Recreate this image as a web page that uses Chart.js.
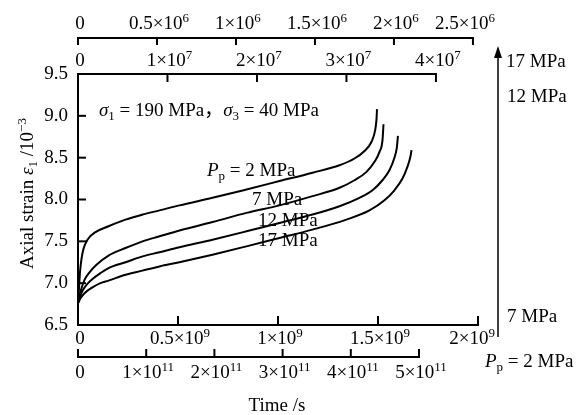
<!DOCTYPE html>
<html><head><meta charset="utf-8">
<script src="https://cdn.jsdelivr.net/npm/chart.js@4.4.1/dist/chart.umd.min.js"></script>
<style>html,body{margin:0;padding:0;background:#fff;}canvas{display:block;}</style>
</head><body>
<canvas id="chart" width="587" height="415"></canvas>
<script>
const FONT = '"Liberation Serif","Times New Roman","Noto Sans CJK SC",serif';
const FS = 19;

// ---- creep curves (time in s, axial strain in 10^-3) ----
// Pp = 2 MPa (lower bottom axis, 10^11 s)
const timeP2 = [0,0.0147e11,0.0293e11,0.0513e11,0.0806e11,0.139e11,0.257e11,0.447e11,0.696e11,0.946e11,1.195e11,1.488e11,1.972e11,2.471e11,2.955e11,3.439e11,3.834e11,4.054e11,4.201e11,4.304e11,4.355e11,4.377e11,4.384e11];
const strainP2 = [6.76,6.94,7.13,7.29,7.41,7.52,7.61,7.68,7.76,7.82,7.87,7.93,8.02,8.12,8.22,8.32,8.41,8.49,8.58,8.69,8.82,8.96,9.08];
// Pp = 7 MPa (main bottom axis, 10^9 s)
const timeP7 = [0,0.0075e9,0.0175e9,0.0325e9,0.0575e9,0.0925e9,0.1525e9,0.2375e9,0.3225e9,0.4075e9,0.5075e9,0.6725e9,0.8425e9,1.0075e9,1.1725e9,1.3075e9,1.3825e9,1.4425e9,1.4825e9,1.5075e9,1.5225e9,1.5275e9];
const strainP7 = [6.76,6.85,6.94,7.04,7.13,7.22,7.33,7.42,7.50,7.56,7.63,7.73,7.84,7.93,8.04,8.14,8.23,8.33,8.45,8.57,8.71,8.90];
// Pp = 12 MPa (lower top axis, 10^7 s)
const timeP12 = [0,0.0223e7,0.0503e7,0.095e7,0.162e7,0.251e7,0.341e7,0.531e7,0.721e7,0.911e7,1.134e7,1.503e7,1.883e7,2.251e7,2.620e7,2.922e7,3.145e7,3.291e7,3.402e7,3.480e7,3.536e7,3.564e7,3.575e7];
const strainP12 = [6.76,6.84,6.91,6.98,7.05,7.12,7.18,7.25,7.32,7.37,7.43,7.52,7.62,7.72,7.82,7.92,8.02,8.11,8.23,8.35,8.50,8.63,8.76];
// Pp = 17 MPa (upper top axis, 10^6 s)
const timeP17 = [0,0.0158e6,0.0411e6,0.0918e6,0.142e6,0.193e6,0.301e6,0.408e6,0.516e6,0.642e6,0.851e6,1.066e6,1.275e6,1.484e6,1.699e6,1.845e6,1.940e6,2.003e6,2.054e6,2.085e6,2.104e6,2.111e6];
const strainP17 = [6.76,6.82,6.88,6.95,7.00,7.03,7.10,7.15,7.20,7.25,7.34,7.44,7.54,7.64,7.76,7.87,7.99,8.11,8.25,8.39,8.51,8.59];

// ---- axis ticks and labels ('^' marks the exponent) ----
const ticksP17 = [0,0.5e6,1e6,1.5e6,2e6,2.5e6];
const labelsP17 = ['0','0.5×10^6','1×10^6','1.5×10^6','2×10^6','2.5×10^6'];
const ticksP12 = [0,1e7,2e7,3e7,4e7];
const labelsP12 = ['0','1×10^7','2×10^7','3×10^7','4×10^7'];
const ticksP7 = [0,0.5e9,1e9,1.5e9,2e9];
const labelsP7 = ['0','0.5×10^9','1×10^9','1.5×10^9','2×10^9'];
const ticksP2 = [0,1e11,2e11,3e11,4e11,5e11];
const labelsP2 = ['0','1×10^11','2×10^11','3×10^11','4×10^11','5×10^11'];
const yMin = 6.5, yMax = 9.5, yStep = 0.5;

const maxP7 = 2e9, maxP2 = 5.865e11, maxP12 = 4.47e7, maxP17 = 2.532e6;

function pts(xs, ys){ return xs.map((x,i)=>({x:x,y:ys[i]})); }
function parseLabel(s){ const i=s.indexOf('^'); return i<0?[{t:s}]:[{t:s.slice(0,i)},{t:s.slice(i+1),sup:1}]; }
function segFont(s,size){ const sz=(s.sup||s.sub)?Math.round(size*0.68):size; return (s.i?'italic ':'')+sz+'px '+FONT; }
function measure(ctx,segs,size){ let w=0; for(const s of segs){ ctx.font=segFont(s,size); w+=ctx.measureText(s.t).width; } return w; }
function drawRich(ctx,segs,x,y,size,align,maxRight){
  const w=measure(ctx,segs,size);
  let cx = align==='center'? x-w/2 : (align==='right'? x-w : x);
  if(maxRight!==undefined && cx+w>maxRight) cx=maxRight-w;
  ctx.textAlign='left'; ctx.textBaseline='alphabetic'; ctx.fillStyle='#000';
  const base = y + size*0.33;
  for(const s of segs){
    ctx.font=segFont(s,size);
    let dy=0; if(s.sup) dy=-size*0.36; if(s.sub) dy=size*0.18;
    ctx.fillText(s.t,cx,base+dy);
    cx+=ctx.measureText(s.t).width;
  }
}

// annotations, positioned in data units (main time axis, strain axis)
const notes = [
  {x:0.105e9, y:9.07, segs:[{t:'σ',i:1},{t:'1',sub:1},{t:' = 190 MPa，'},{t:'σ',i:1},{t:'3',sub:1},{t:' = 40 MPa'}]},
  {x:0.645e9, y:8.35, segs:[{t:'P',i:1},{t:'p',sub:1},{t:' = 2 MPa'}]},
  {x:0.87e9, y:8.006, segs:[{t:'7 MPa'}]},
  {x:0.90e9, y:7.755, segs:[{t:'12 MPa'}]},
  {x:0.90e9, y:7.516, segs:[{t:'17 MPa'}]},
  {x:2.14e9, y:9.655, segs:[{t:'17 MPa'}]},
  {x:2.145e9, y:9.243, segs:[{t:'12 MPa'}]},
  {x:2.145e9, y:6.614, segs:[{t:'7 MPa'}]},
  {x:2.035e9, y:6.07, segs:[{t:'P',i:1},{t:'p',sub:1},{t:' = 2 MPa'}]}
];
const arrow = {x:2.1e9, y0:6.357, y1:9.835};

const axesPlugin = {
  id:'customAxes',
  afterDraw(chart){
    const ctx=chart.ctx, ca=chart.chartArea, S=chart.scales, ys=S.y, xm=S.x;
    const ax=xm.getPixelForValue(arrow.x);
    ctx.save();
    ctx.strokeStyle='#000'; ctx.lineWidth=2; ctx.lineCap='square';
    // inward y ticks
    for(let v=yMin+yStep; v<yMax-1e-9; v+=yStep){
      const y=ys.getPixelForValue(v);
      ctx.beginPath(); ctx.moveTo(ca.left,y); ctx.lineTo(ca.left+7,y); ctx.stroke();
    }
    const defs=[
      {s:S.xP17, ticks:ticksP17, labels:labelsP17, base:ca.top-36, dir:1, len:6, ldy:-15},
      {s:S.xP12, ticks:ticksP12, labels:labelsP12, base:ca.top, dir:1, len:7, ldy:-14},
      {s:S.x, ticks:ticksP7, labels:labelsP7, base:ca.bottom, dir:-1, len:8, ldy:13},
      {s:S.xP2, ticks:ticksP2, labels:labelsP2, base:ca.bottom+32, dir:-1, len:7, ldy:15}
    ];
    for(const d of defs){
      const x0=d.s.getPixelForValue(d.ticks[0]), x1=d.s.getPixelForValue(d.ticks[d.ticks.length-1]);
      ctx.beginPath(); ctx.moveTo(x0,d.base); ctx.lineTo(x1,d.base); ctx.stroke();
      d.ticks.forEach((v,i)=>{
        const x=d.s.getPixelForValue(v);
        ctx.beginPath(); ctx.moveTo(x,d.base); ctx.lineTo(x,d.base+d.dir*d.len); ctx.stroke();
        drawRich(ctx,parseLabel(d.labels[i]),x+2,d.base+d.ldy,FS,'center',ax-3);
      });
    }
    // annotations
    for(const n of notes){
      drawRich(ctx,n.segs,xm.getPixelForValue(n.x),ys.getPixelForValue(n.y),FS,'left');
    }
    // arrow
    const ay0=ys.getPixelForValue(arrow.y0), ay1=ys.getPixelForValue(arrow.y1);
    ctx.lineCap='butt'; ctx.lineWidth=1.5;
    ctx.beginPath(); ctx.moveTo(ax,ay0); ctx.lineTo(ax,ay1+8); ctx.stroke();
    ctx.fillStyle='#000';
    ctx.beginPath(); ctx.moveTo(ax,ay1); ctx.lineTo(ax-4,ay1+12); ctx.lineTo(ax+4,ay1+12); ctx.closePath(); ctx.fill();
    // axis titles
    drawRich(ctx,[{t:'Time /s'}],(ca.left+ca.right)/2-1,ca.bottom+80,FS,'center');
    ctx.save();
    ctx.translate(ca.left-51,(ca.top+ca.bottom)/2-6);
    ctx.rotate(-Math.PI/2);
    drawRich(ctx,[{t:'Axial strain '},{t:'ε',i:1},{t:'1',sub:1},{t:' /10'},{t:'−3',sup:1}],0,0,FS,'center');
    ctx.restore();
    ctx.restore();
  }
};

const lineDs = (label, axis, xs, ys) => ({label:label, xAxisID:axis, yAxisID:'y', data:pts(xs,ys),
  borderColor:'#000', borderWidth:2, pointRadius:0, fill:false, cubicInterpolationMode:'monotone'});

new Chart(document.getElementById('chart'), {
  type:'line',
  data:{datasets:[
    lineDs('Pp = 2 MPa','xP2',timeP2,strainP2),
    lineDs('Pp = 7 MPa','x',timeP7,strainP7),
    lineDs('Pp = 12 MPa','xP12',timeP12,strainP12),
    lineDs('Pp = 17 MPa','xP17',timeP17,strainP17)
  ]},
  options:{
    responsive:false, animation:false, devicePixelRatio:1,
    layout:{padding:{left:8,right:109,top:74,bottom:90}},
    plugins:{legend:{display:false}, tooltip:{enabled:false}},
    scales:{
      x:{type:'linear', display:false, position:'bottom', min:0, max:maxP7},
      xP2:{type:'linear', display:false, position:'bottom', min:0, max:maxP2},
      xP12:{type:'linear', display:false, position:'top', min:0, max:maxP12},
      xP17:{type:'linear', display:false, position:'top', min:0, max:maxP17},
      y:{type:'linear', position:'left', min:yMin, max:yMax,
        ticks:{stepSize:yStep, color:'#000', padding:10, font:{family:FONT, size:FS}, callback:v=>v.toFixed(1)},
        grid:{drawOnChartArea:false, drawTicks:false},
        border:{display:true, color:'#000', width:2},
        afterFit(s){ s.width=70; }
      }
    }
  },
  plugins:[axesPlugin]
});
</script>
</body></html>
